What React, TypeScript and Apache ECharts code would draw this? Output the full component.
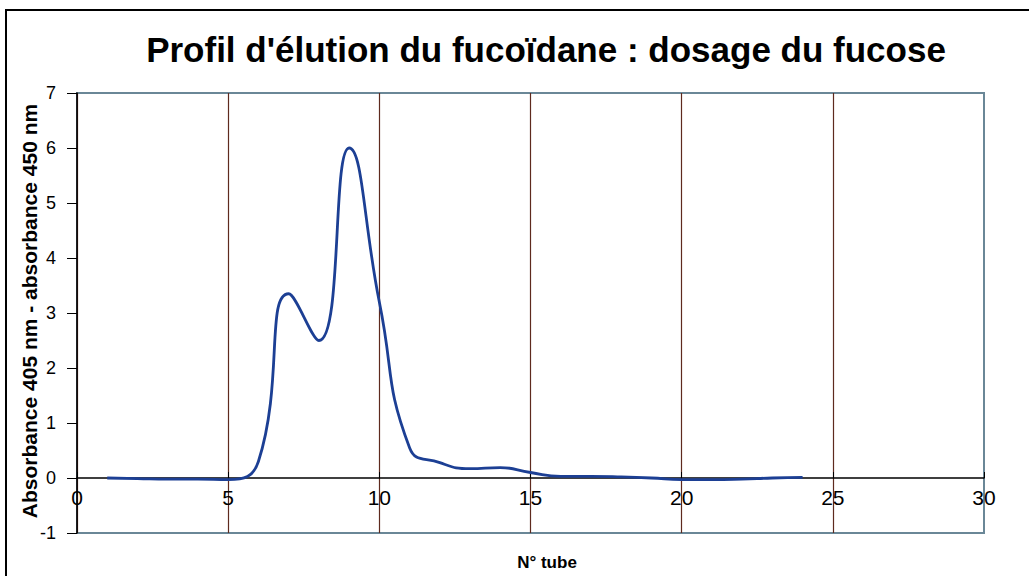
import React, { useEffect, useRef } from "react";
import * as echarts from "echarts";

const titleText = "Profil d'élution du fucoïdane : dosage du fucose";
const yAxisTitle = "Absorbance 405 nm - absorbance 450 nm";
const xAxisTitle = "N° tube";

const tubes = [1, 2, 3, 4, 5, 6, 7, 8, 9, 10, 11, 12, 13, 14, 15, 16, 17, 18, 19, 20, 21, 22, 23, 24];
const absorbance = [0.0, -0.01, -0.02, -0.02, -0.03, 0.3, 3.35, 2.5, 6.0, 3.2, 0.55, 0.28, 0.17, 0.19, 0.1, 0.03, 0.03, 0.02, 0.0, -0.03, -0.03, -0.02, 0.0, 0.01];

export default function App() {
  const ref = useRef<HTMLDivElement>(null);
  useEffect(() => {
    if (!ref.current) return;
    const chart = echarts.init(ref.current, null, { renderer: "svg" });
    const data = tubes.map((t, i) => [t, absorbance[i]]);
    chart.setOption({
      animation: false,
      backgroundColor: "#ffffff",
      textStyle: { fontFamily: "Liberation Sans, Arial, sans-serif" },
      title: {
        text: titleText,
        left: 541,
        textAlign: "center",
        top: 27,
        textStyle: { fontSize: 35, fontWeight: "bold", color: "#000", fontFamily: "Liberation Sans, Arial, sans-serif" },
      },
      grid: {
        left: 77,
        top: 93,
        width: 907,
        height: 440,
        show: true,
        borderColor: "#6a8797",
        borderWidth: 2,
        backgroundColor: "#ffffff",
      },
      xAxis: {
        type: "value",
        min: 0,
        max: 30,
        interval: 5,
        axisLine: { show: true, onZero: true, lineStyle: { color: "#000", width: 1.5 } },
        axisTick: { show: true, inside: true, length: 6, lineStyle: { color: "#000" } },
        axisLabel: { fontSize: 21, color: "#000", margin: -46 },
        splitLine: { show: true, showMaxLine: false, lineStyle: { color: "#5e2a1e", width: 1.2 } },
      },
      yAxis: {
        type: "value",
        min: -1,
        max: 7,
        interval: 1,
        axisLine: { show: true, onZero: false, lineStyle: { color: "#000", width: 1.5 } },
        axisTick: { show: true, inside: false, length: 10, lineStyle: { color: "#000" } },
        axisLabel: { fontSize: 18, color: "#000", margin: 21 },
        splitLine: { show: false },
      },
      series: [
        {
          type: "line",
          data,
          smooth: 0.5,
          showSymbol: false,
          symbol: "none",
          lineStyle: { color: "#1c3f94", width: 2.8 },
          z: 5,
        },
      ],
      graphic: [
        {
          type: "rect",
          shape: { x: 6, y: 10, width: 1100, height: 700 },
          style: { fill: "none", stroke: "#000", lineWidth: 2 },
          silent: true,
          z: 100,
        },
        {
          type: "text",
          x: 29,
          y: 311,
          rotation: Math.PI / 2,
          style: {
            text: yAxisTitle,
            fontSize: 21,
            fontWeight: "bold",
            fill: "#000",
            align: "center",
            verticalAlign: "middle",
            fontFamily: "Liberation Sans, Arial, sans-serif",
          },
        },
        {
          type: "text",
          x: 547,
          y: 562,
          style: {
            text: xAxisTitle,
            fontSize: 17,
            fontWeight: "bold",
            fill: "#000",
            align: "center",
            verticalAlign: "middle",
            fontFamily: "Liberation Sans, Arial, sans-serif",
          },
        },
      ],
    });
    return () => chart.dispose();
  }, []);
  return (
    <div
      ref={ref}
      style={{ position: "fixed", left: 0, top: 0, width: 1029, height: 576 }}
    />
  );
}
